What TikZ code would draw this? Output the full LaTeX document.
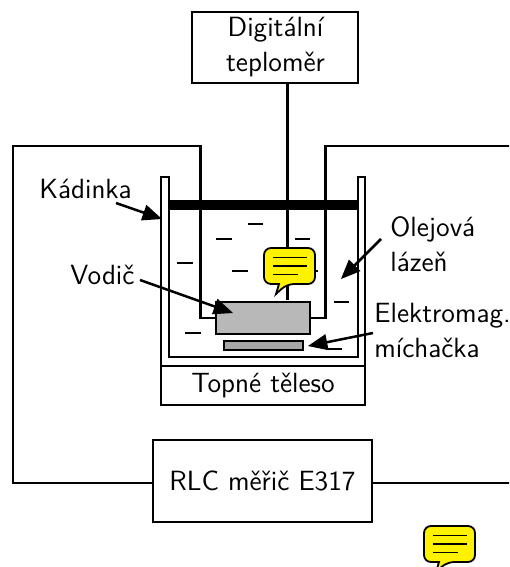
\documentclass[tikz,border=0pt]{standalone}
\usepackage{amsmath,amssymb}
\usepackage{tikz}
\usetikzlibrary{arrows}
\renewcommand{\familydefault}{\sfdefault}

\tikzset{
  wire/.style={line width=1.25pt},
  lbl/.style={inner sep=0pt,font=\fontsize{13.9}{16}\selectfont\sffamily},
  lblleft/.style={lbl,anchor=base west},
  pointer/.style={wire,-triangle 45},
  liquid/.style={line width=1pt},
  note/.style={draw=black,line width=0.9pt,fill=yellow,rounded corners=3.5pt},
}
\newcommand{\notemark}[2]{
\draw [note] (#1,#2) -- (#1+51,#2) -- (#1+51,#2+36) -- (#1+23,#2+36) [sharp corners] -- (#1+12,#2+46) -- (#1+15,#2+36) [rounded corners=3.5pt] -- (#1,#2+36) -- cycle;
\draw [line width=0.7pt] (#1+9,#2+9.5) -- (#1+43,#2+9.5);
\draw [line width=0.7pt] (#1+9,#2+18) -- (#1+43,#2+18);
\draw [line width=0.7pt] (#1+9,#2+26.5) -- (#1+34,#2+26.5);
}

\begin{document}
\begin{tikzpicture}[line cap=butt,line join=miter,x=0.5pt,y=-0.5pt]
\clip (0,0) rectangle (509,567);
\useasboundingbox (0,0) rectangle (509,567);

% thermometer and its probe
\node [wire,draw,minimum width=83pt,minimum height=35.5pt] (teplomer) at (275,47.5) {};
\node [lbl,anchor=base] (digital) at (275.5,37) {Digitální};
\node [lbl,anchor=base] (teplo) at (275.5,72) {teploměr};
\coordinate (sonda) at (287.5,300);
\draw [wire] (sonda |- teplomer.south) -- (sonda);

% oil surface
\draw [liquid] (248,224)-- (263,224);
\draw [liquid] (216,239)-- (232,239);
\draw [liquid] (295,239)-- (310,239);
\draw [liquid] (177,263)-- (193,263);
\draw [liquid] (232,271)-- (248,271);
\draw [liquid] (302,271)-- (318,271);
\draw [liquid] (334,302)-- (349,302);
\draw [liquid] (185,333)-- (201,333);
\draw [liquid] (263,333)-- (279,333);
\draw [liquid] (326,349)-- (342,349);

% measuring circuit
\node [wire,draw,lbl,minimum width=109.5pt,minimum height=41pt] (rlc) at (262.5,481) {RLC měřič E317};
\node [wire,draw,fill=black!28,minimum width=47pt,minimum height=16pt,inner sep=0pt] (vodic) at (263,318) {};
\coordinate (levy) at (200.7,318);
\coordinate (pravy) at (325.7,318);
\draw [wire] (vodic.west |- levy) -- (levy) -- (200.7,146) -- (13,146) -- (13,483) -- (rlc.west |- 0,483);
\draw [wire] (vodic.east |- pravy) -- (pravy) -- (325.7,146) -- (512,146);
\draw [wire] (rlc.east |- 0,483) -- (512,483);

% beaker
\draw [wire] (161,366) -- (161,177) -- (169,177) -- (169,357) -- (358,357) -- (358,177) -- (365,177) -- (365,366);
\draw [black,fill=black] (169,200.5) rectangle (358,209);
\node [wire,draw,fill=black!35,minimum width=39.5pt,minimum height=4.5pt,inner sep=0pt] (michacka) at (263.5,345.5) {};
\node [wire,draw,lbl,minimum width=102pt,minimum height=19.5pt] (teleso) at (263,385.5) {Topné těleso};

% labels
\node [lblleft] (kadinka) at (39,198) {Kádinka};
\node [lblleft] (vodictext) at (70,284) {Vodič};
\node [lblleft] (olej) at (390,236) {Olejová};
\node [lblleft] (lazen) at (390,271) {lázeň};
\node [lblleft] (elektro) at (374,322) {Elektromag.};
\node [lblleft] (michtext) at (374,357) {míchačka};

% pointers
\coordinate (kadinkatip) at (162,219);
\coordinate (voditip) at (233,313);
\coordinate (olejtip) at (341,279);
\coordinate (michtip) at (308,346);
\coordinate (kadinkastart) at (116,203);
\coordinate (vodistart) at (140,280);
\coordinate (olejstart) at (381,239);
\coordinate (michstart) at (373,333);
\draw [pointer] (kadinkastart) -- (kadinkatip);
\draw [pointer] (vodistart) -- (voditip);
\draw [pointer] (olejstart) -- (olejtip);
\draw [pointer] (michstart) -- (michtip);

% comment marks
\notemark{264}{248}
\notemark{424}{526}
\end{tikzpicture}
\end{document}
